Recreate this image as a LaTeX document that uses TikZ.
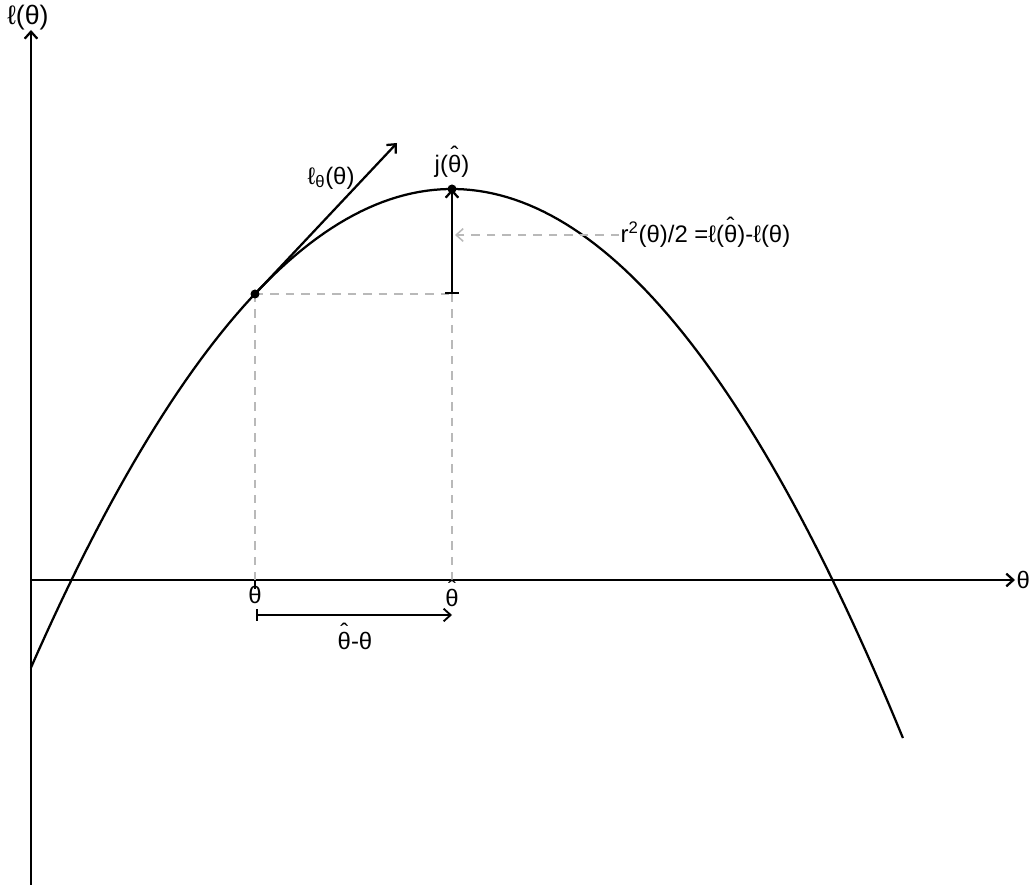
\documentclass[tikz,border=0pt]{standalone}
\usepackage{fontspec}
\setmainfont{Liberation Sans}
\usetikzlibrary{arrows.meta}
\newcommand{\thh}{\ooalign{θ\cr\hidewidth\raisebox{0.36em}{ˆ}\hidewidth\cr}}

\begin{document}
\begin{tikzpicture}[x=2.5cm, y=2.5cm,
    >={Straight Barb[length=5pt,width=9pt]},
    every node/.style={font=\fontsize{17}{20}\selectfont},
    axis/.style={line width=1.6pt, ->},
    curve/.style={line width=1.6pt},
    guide/.style={gray!55, line width=1.1pt, dash pattern=on 6pt off 5pt}]

  \useasboundingbox (-0.31,-3.09) rectangle (10.03,5.80);

  % --- assi ---
  \draw[axis] (0,-3.05) -- (0,5.50) coordinate (ytop);
  \node (ylab) at (-0.03,5.62) {\fontsize{19}{20}\selectfont ℓ(θ)};
  \draw[axis] (0,0) -- (9.84,0) coordinate (xend);
  \node[right=0pt, inner sep=1pt] (xlab) at (xend) {θ};

  % --- parabola ---
  \draw[curve] plot[domain=0:8.72, samples=120] (\x, {3.91-0.27*(\x-4.21)^2});

  % --- tratteggi ---
  \coordinate (th) at (2.24,2.86);
  \coordinate (top) at (4.21,3.91);
  \coordinate (foot) at (4.21,2.86);
  \coordinate (thx) at (2.24,0);
  \coordinate (hatx) at (4.21,0);
  \draw[guide] (th) -- (foot);
  \draw[guide] (th) -- (thx);
  \draw[guide] (foot) -- (hatx);

  % --- tangente ---
  \coordinate (tang) at (3.66,4.37);
  \draw[curve, ->] (th) -- (tang);
  \node (tlab) at (3.00,4.02) {ℓ\textsubscript{θ}(θ)};

  % --- punti ---
  \fill (th) circle (3.2pt);
  \fill (top) circle (3.2pt);
  \node[above=5pt] (jlab) at (top) {j(\thh)};

  % --- differenza verticale ---
  \draw[curve, |->] (foot) -- (top);
  \coordinate (rstart) at (5.88,3.45);
  \coordinate (rend) at (4.24,3.45);
  \draw[guide, ->] (rstart) -- (rend);
  \node[right=0pt, inner sep=1pt] (rlab) at (rstart) {r\textsuperscript{2}(θ)/2 =ℓ(\thh)-ℓ(θ)};

  % --- etichette asse x ---
  \draw[line width=1.2pt] (thx) -- ++(0,-0.09);
  \node[below=1pt] (thlab) at (thx) {θ};
  \node[below=1pt, yshift=-2pt] (hatlab) at (hatx) {\thh};

  % --- differenza orizzontale ---
  \coordinate (ha) at (2.25,-0.35);
  \coordinate (hb) at (4.21,-0.35);
  \draw[line width=1.3pt, |->] (ha) -- (hb);
  \node (dlab) at (3.24,-0.61) {\thh-θ};

\end{tikzpicture}
\end{document}
